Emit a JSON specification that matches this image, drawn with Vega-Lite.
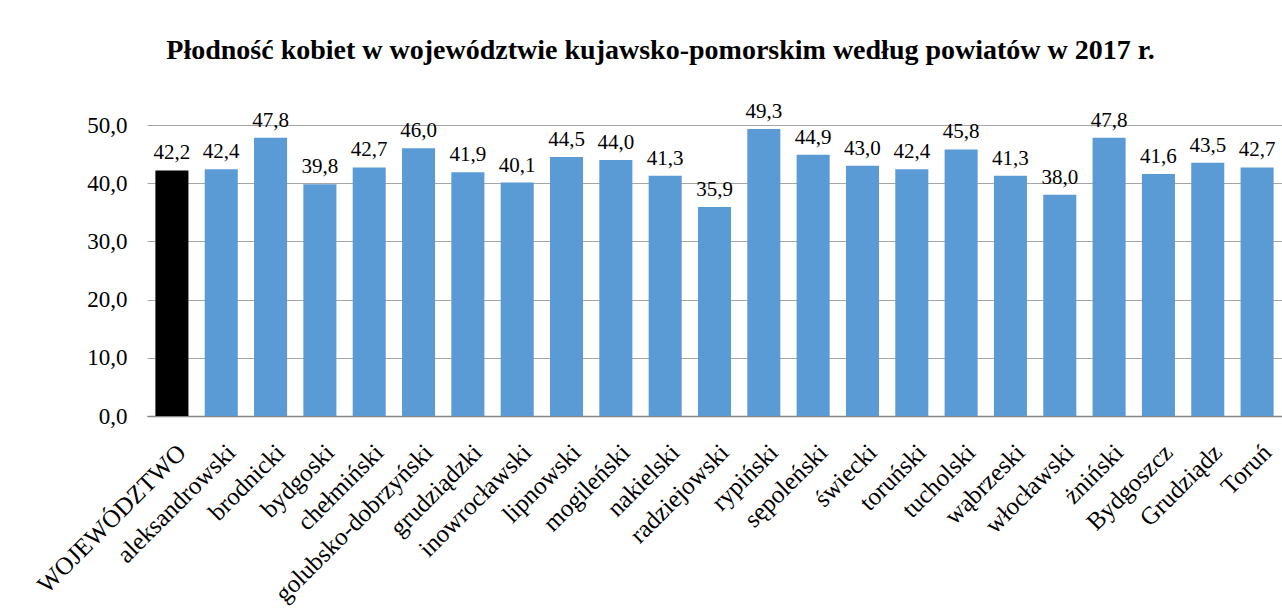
{
  "$schema": "https://vega.github.io/schema/vega-lite/v6.json",
  "autosize": "none",
  "width": 1135,
  "height": 291,
  "padding": {"left": 147, "top": 125, "right": 0, "bottom": 194},
  "background": "white",
  "title": {
    "text": "Płodność kobiet w województwie kujawsko-pomorskim według powiatów w 2017 r.",
    "font": "Liberation Serif",
    "fontSize": 28,
    "fontWeight": "bold",
    "color": "black",
    "anchor": "middle",
    "dx": -54,
    "offset": 36
  },
  "config": {
    "locale": {"number": {"decimal": ",", "thousands": " ", "grouping": [3], "currency": ["", " zł"]}},
    "view": {"stroke": null},
    "font": "Liberation Serif"
  },
  "data": {
    "values": [
      {"powiat": "WOJEWÓDZTWO", "value": 42.2, "typ": "woj"},
      {"powiat": "aleksandrowski", "value": 42.4, "typ": "pow"},
      {"powiat": "brodnicki", "value": 47.8, "typ": "pow"},
      {"powiat": "bydgoski", "value": 39.8, "typ": "pow"},
      {"powiat": "chełmiński", "value": 42.7, "typ": "pow"},
      {"powiat": "golubsko-dobrzyński", "value": 46.0, "typ": "pow"},
      {"powiat": "grudziądzki", "value": 41.9, "typ": "pow"},
      {"powiat": "inowrocławski", "value": 40.1, "typ": "pow"},
      {"powiat": "lipnowski", "value": 44.5, "typ": "pow"},
      {"powiat": "mogileński", "value": 44.0, "typ": "pow"},
      {"powiat": "nakielski", "value": 41.3, "typ": "pow"},
      {"powiat": "radziejowski", "value": 35.9, "typ": "pow"},
      {"powiat": "rypiński", "value": 49.3, "typ": "pow"},
      {"powiat": "sępoleński", "value": 44.9, "typ": "pow"},
      {"powiat": "świecki", "value": 43.0, "typ": "pow"},
      {"powiat": "toruński", "value": 42.4, "typ": "pow"},
      {"powiat": "tucholski", "value": 45.8, "typ": "pow"},
      {"powiat": "wąbrzeski", "value": 41.3, "typ": "pow"},
      {"powiat": "włocławski", "value": 38.0, "typ": "pow"},
      {"powiat": "żniński", "value": 47.8, "typ": "pow"},
      {"powiat": "Bydgoszcz", "value": 41.6, "typ": "pow"},
      {"powiat": "Grudziądz", "value": 43.5, "typ": "pow"},
      {"powiat": "Toruń", "value": 42.7, "typ": "pow"}
    ]
  },
  "encoding": {
    "x": {
      "field": "powiat",
      "type": "nominal",
      "sort": null,
      "title": null,
      "scale": {"paddingInner": 0.33, "paddingOuter": 0.17},
      "axis": {
        "labelAngle": -45,
        "labelAlign": "right",
        "labelBaseline": "middle",
        "labelFont": "Liberation Serif",
        "labelFontSize": 25,
        "labelColor": "black",
        "labelPadding": 32,
        "labelOffset": 10,
        "ticks": false,
        "domainColor": "#868686",
        "domainWidth": 1.5,
        "labelOverlap": false,
        "labelLimit": 400
      }
    },
    "y": {
      "field": "value",
      "type": "quantitative",
      "title": null,
      "scale": {"domain": [0, 50]},
      "axis": {
        "values": [0, 10, 20, 30, 40, 50],
        "format": ".1f",
        "domain": false,
        "ticks": false,
        "labelFont": "Liberation Serif",
        "labelFontSize": 23,
        "labelColor": "black",
        "labelPadding": 20,
        "gridColor": "#a6a6a6",
        "gridWidth": 1
      }
    }
  },
  "layer": [
    {
      "mark": {"type": "bar"},
      "encoding": {
        "color": {
          "field": "typ",
          "type": "nominal",
          "scale": {"domain": ["woj", "pow"], "range": ["#000000", "#5B9BD5"]},
          "legend": null
        }
      }
    },
    {
      "mark": {"type": "text", "baseline": "alphabetic", "dy": -11, "font": "Liberation Serif", "fontSize": 21, "color": "black"},
      "encoding": {
        "text": {"field": "value", "type": "quantitative", "format": ".1f"}
      }
    }
  ]
}
